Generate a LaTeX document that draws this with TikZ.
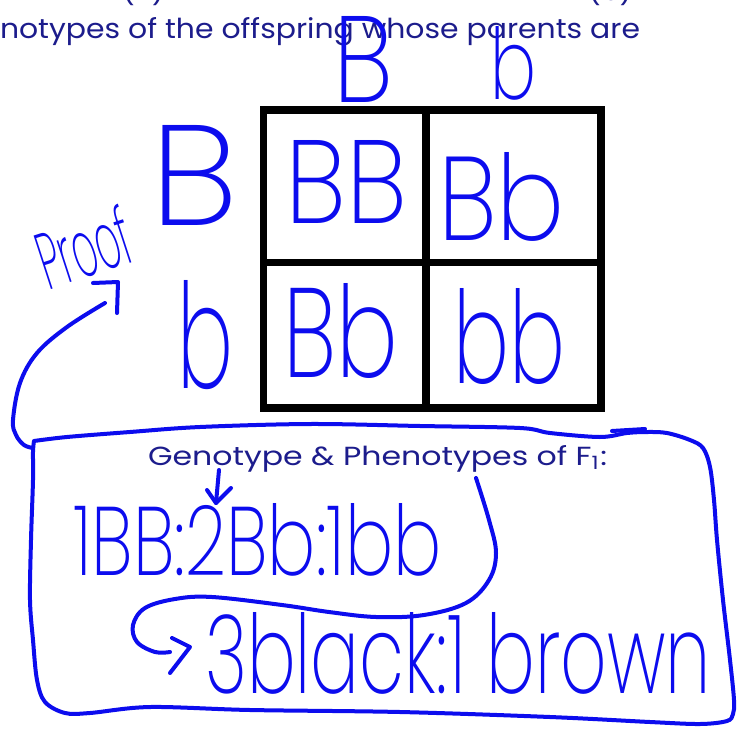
\documentclass[tikz,border=0pt]{standalone}
\usepackage{fontspec}
\usepackage{graphicx}
\setmainfont{Poppins}
\newfontfamily\hand{Poppins ExtraLight}
\newdimen\pxu \pxu=0.75pt
\newcommand{\fitbox}[3]{\resizebox{#1\pxu}{#2\pxu}{#3}}
\definecolor{handblue}{RGB}{12,12,238}
\definecolor{inknavy}{RGB}{28,28,140}
\begin{document}
\begin{tikzpicture}[x=0.75pt,y=-0.75pt,
  grid/.style={draw=black,line width=5.5pt,line cap=rect},
  pen/.style={draw=handblue,line width=3pt,line cap=round,line join=round},
  htext/.style={inner sep=0pt,outer sep=0pt,anchor=base west,text=handblue,font=\hand},
  ptext/.style={inner sep=0pt,outer sep=0pt,anchor=base west,text=inknavy}]
\useasboundingbox (0,0) rectangle (738,731);
\clip (0,0) rectangle (738,731);
\fill[white] (0,0) rectangle (738,731);
% printed question text (cut off at the top edge)
\node[ptext] (cutA) at (122,1) {\fontsize{21}{25}\selectfont (B)};
\node[ptext] (cutB) at (588,1) {\fontsize{21}{25}\selectfont (b)};
\node[ptext] (question) at (0,39) {\fitbox{640}{21}{notypes of the offspring whose parents are}};
% Punnett square
\draw[grid] (263.5,110) rectangle (601,408);
\draw[grid] (426,110) -- (426,408);
\draw[grid] (263.5,262.5) -- (601,262.5);
% parent alleles
\node[htext] (topB) at (333,103) {\fitbox{60}{86}{B}};
\node[htext] (topb) at (490,100) {\fitbox{46}{73}{b}};
\node[htext] (leftB) at (150,225) {\fitbox{88}{100}{B}};
\node[htext] (leftb) at (177,388) {\fitbox{56}{108}{b}};
% cells
\node[htext] (cBB) at (285,223) {\fitbox{122}{83}{BB}};
\node[htext] (cBb1) at (438,240) {\fitbox{127}{88}{Bb}};
\node[htext] (cBb2) at (283,377) {\fitbox{115}{94}{Bb}};
\node[htext] (cbb) at (453,383) {\fitbox{112}{95}{bb}};
% Proof
\node[htext,rotate=18] (proof) at (48,290) {\fitbox{95}{60}{Proof}};
\coordinate (proofarrow) at (118,282);
\draw[pen] plot[smooth,tension=0.6] coordinates {(105,303) (67,327) (37,353) (20,383) (13,420) (16,435) (24,445) (33,448)};
\draw[pen] (93,283) -- (proofarrow) -- (117,313);
% big box
\draw[pen] plot[smooth,tension=0.55] coordinates {(34,441) (67,437) (130,432) (200,427) (310,424) (420,426) (520,428) (550,433) (600,437) (627,433) (647,432) (667,433) (690,440) (703,448) (710,467) (714,500) (717,540) (723,600) (730,660) (734,700) (733,714) (727,721) (700,724) (650,722) (550,717) (400,712) (250,710) (150,707) (90,713) (65,713) (45,702) (37,680) (33,640) (30,600) (31,540) (33,480) (33,452) (34,441)};
\draw[pen] (612,431) -- (645,429);
% F1 text
\node[ptext] (geno) at (148,465) {\fitbox{459}{20}{Genotype \& Phenotypes of F\textsubscript{1}:}};
% ratio
\node[htext] (ratio) at (73,575) {\fitbox{369}{72}{1BB:2Bb:1bb}};
\coordinate (arrowtip) at (216,503);
\draw[pen] (219,470) -- (arrowtip);
\draw[pen] (207,490) -- (arrowtip) -- (231,488);
% inner curve
\coordinate (hooktip) at (190,647);
\draw[pen] plot[smooth,tension=0.6] coordinates {(476,478) (489,520) (496,553) (489,580) (466,603) (424,615) (376,617) (329,612) (282,605) (212,597) (175,599) (145,608) (133,625) (137,642) (155,652) (170,652)};
\draw[pen] (172,638) -- (hooktip) -- (170,673);
\node[htext] (pheno) at (205,693) {\fitbox{506}{81}{3black:1 brown}};
\end{tikzpicture}
\end{document}
